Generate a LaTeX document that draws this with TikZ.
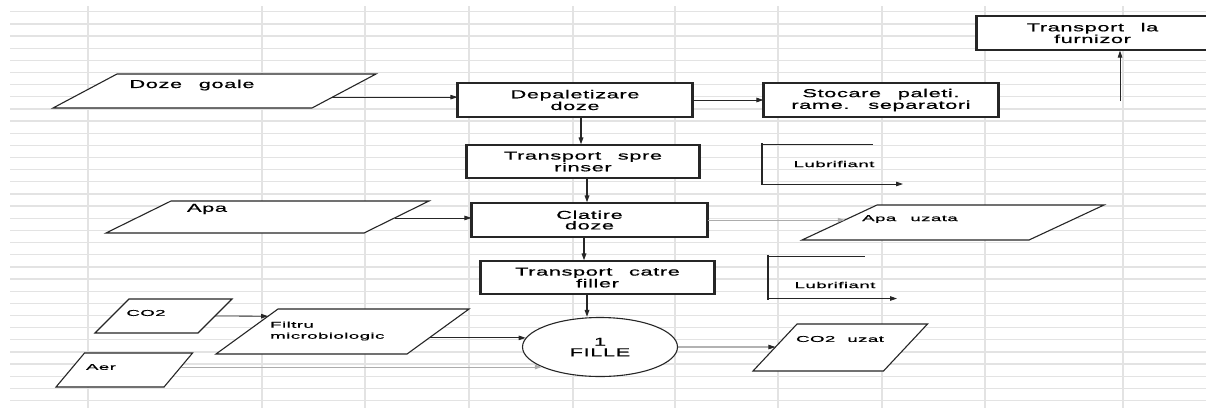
\documentclass[tikz,border=0pt]{standalone}
\usepackage{fontspec}
\setmainfont{Liberation Sans}
\newfontfamily\wfont[FakeStretch=1.9, LetterSpace=5, WordSpace=2.5, FakeBold=0.6]{Liberation Sans}
\newfontfamily\wsfont[FakeStretch=2.2, LetterSpace=5, WordSpace=2.5, FakeBold=0.5]{Liberation Sans}
\usetikzlibrary{shapes.geometric,arrows.meta,calc}
\newcommand\bigtxt{\wfont\fontsize{11.5}{10.5}\selectfont}
\newcommand\smtxt{\wsfont\fontsize{8.5}{11}\selectfont}
\begin{document}
\begin{tikzpicture}[x=1pt,y=-1pt,
  gridline/.style={draw=gray!22, line width=1.3pt},
  box/.style={draw=black!85, line width=1.1pt, fill=white, rectangle, inner sep=0pt, align=center, font=\bigtxt},
  side/.style={draw=black!85, line width=2.4pt},
  % para={slant angle}{body width}{height}
  para/.style n args={3}{trapezium, draw=black!85, line width=1.1pt, fill=white, inner sep=0pt, outer sep=0pt,
     trapezium left angle=#1, trapezium right angle={180-#1}, text width=#2, text height=#3, text depth=0pt, anchor=bottom left corner},
  arr/.style={-{Triangle[length=7pt,width=4.5pt]}, line width=0.8pt, draw=black!85},
  varr/.style={arr, line width=1.5pt},
  garr/.style={arr, draw=gray!65},
  lbl/.style={inner sep=0pt, font=\smtxt},
  blbl/.style={inner sep=0pt, font=\bigtxt}]
\useasboundingbox (0,0) rectangle (1206,408);
\clip (0,0) rectangle (1206,408);
\fill[white] (0,0) rectangle (1206,408);
% spreadsheet grid
\foreach \k in {0,...,32} \draw[gridline] (10,{11.7+12.15*\k}) -- (1206,{11.7+12.15*\k});
\foreach \x in {88,262,365,469,573,675,778,882,985,1123} \draw[gridline] (\x,6) -- (\x,408);

% process boxes
\node[box, minimum width=234, minimum height=34] (dep) at (575,100) {Depaletizare\\doze};
\node[box, minimum width=232, minimum height=33] (tsr) at (583,161.5) {Transport spre\\rinser};
\node[box, minimum width=234, minimum height=34] (sto) at (881,100) {Stocare paleti.\\rame. separatori};
\node[box, minimum width=231, minimum height=34] (tlf) at (1092.5,33) {Transport la\\furnizor};
\node[box, minimum width=235, minimum height=34] (cla) at (589.5,220) {Clatire\\doze};
\node[box, minimum width=233, minimum height=33] (tcf) at (597.5,277.5) {Transport catre\\filler};
\foreach \n in {dep,tsr,sto,tlf,cla,tcf}
  \draw[side] (\n.north west) -- (\n.south west) (\n.north east) -- (\n.south east);
\node[ellipse, draw=black!85, line width=1.1pt, fill=white, minimum width=155, minimum height=59, inner sep=0pt, align=center, font=\bigtxt] (fille) at (600,347) {1\\FILLE};

% data parallelograms (placed by their bottom left corner)
\node[para={27.98}{195}{34}] (dg) at (53,108) {};
\node[para={26.21}{193}{32}] (apa) at (106,233) {};
\node[para={25.02}{152}{35}] (apu) at (802,240) {};
\node[para={45}{69}{34}] (co2) at (95,333) {};
\node[para={35.97}{129}{45}] (fil) at (216,354) {};
\node[para={50}{79.5}{34}] (aer) at (56,387) {};
\node[para={46.89}{86.5}{47}] (cou) at (753,371) {};

% texts of the parallelograms
\node[blbl] (dgt) at (192,85) {Doze goale};
\node[blbl] (apat) at (207,209) {Apa};
\node[lbl] (aput) at (910,219) {Apa uzata};
\node[lbl] (co2t) at (146,313) {CO2};
\node[lbl, align=left, anchor=west] (filt) at (270,331) {Filtru\\microbiologic};
\node[lbl] (aert) at (101,367) {Aer};
\node[lbl] (cout) at (840,339) {CO2\hspace{12pt}uzat};

% lubricant brackets
\draw[side] (762,143) -- (762,185);
\draw[line width=0.8pt, draw=black!85] (762,144) -- (873,144);
\draw[arr] (762,184) -- (903,184);
\node[lbl] (lub1) at (834,164) {Lubrifiant};
\draw[side] (768,255) -- (768,300);
\draw[line width=0.8pt, draw=black!85] (768,256) -- (865,256);
\draw[arr] (768,298.5) -- (897,298.5);
\node[lbl] (lub2) at (835,285) {Lubrifiant};

% points on the slanted sides where connectors meet them
\coordinate (dgR) at ($(dg.bottom right corner)!0.32!(dg.top right corner)$);
\coordinate (apaR) at ($(apa.bottom right corner)!0.47!(apa.top right corner)$);
\coordinate (apuL) at ($(apu.bottom left corner)!0.57!(apu.top left corner)$);
\coordinate (co2R) at ($(co2.bottom right corner)!0.5!(co2.top right corner)$);
\coordinate (filL) at ($(fil.bottom left corner)!0.84!(fil.top left corner)$);
\coordinate (filR) at ($(fil.bottom right corner)!0.36!(fil.top right corner)$);
\coordinate (aerR) at ($(aer.bottom right corner)!0.59!(aer.top right corner)$);
\coordinate (couL) at ($(cou.bottom left corner)!0.51!(cou.top left corner)$);

% connectors
\draw[arr] (dgR) -- (dgR -| dep.west);
\draw[arr] (dep) -- (sto);
\coordinate (fs) at (1120,101);
\draw[arr] (fs) -- (fs |- tlf.south);
\draw[varr] (581,0 |- dep.south) -- (581,0 |- tsr.north);
\draw[varr] (587,0 |- tsr.south) -- (587,0 |- cla.north);
\draw[varr] (584,0 |- cla.south) -- (584,0 |- tcf.north);
\draw[varr] (587,0 |- tcf.south) -- (587,0 |- fille.north);
\draw[arr] (apaR) -- (apaR -| cla.west);
\draw[garr] (cla.east |- apuL) -- (apuL);
\draw[arr] (co2R) -- (filL);
\draw[arr] (filR |- fille.173) -- (fille.173);
\draw[garr] (aerR |- fille.199) -- (fille.199);
\draw[arr] (fille.east) -- (couL);
\end{tikzpicture}
\end{document}
